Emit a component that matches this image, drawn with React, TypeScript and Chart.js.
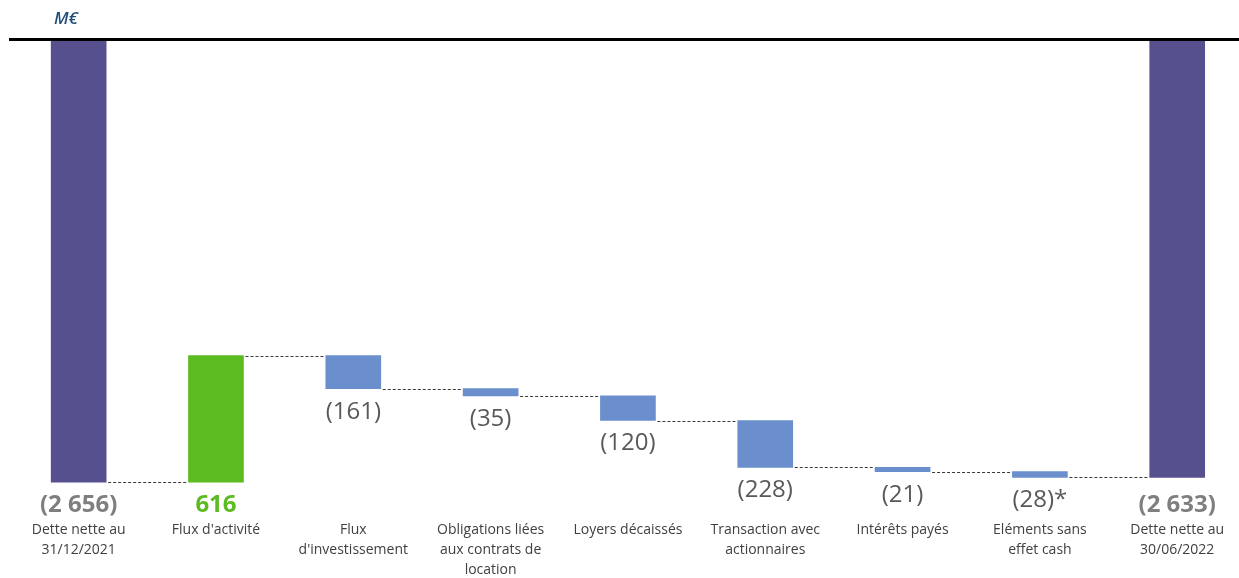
import React, { useEffect, useRef } from "react";
import { Chart, registerables } from "chart.js";

Chart.register(...registerables);

// ---- Data ----
const categories: string[][] = [
  ["Dette nette au", "31/12/2021"],
  ["Flux d'activité"],
  ["Flux", "d'investissement"],
  ["Obligations liées", "aux contrats de", "location"],
  ["Loyers décaissés"],
  ["Transaction avec", "actionnaires"],
  ["Intérêts payés"],
  ["Eléments sans", "effet cash"],
  ["Dette nette au", "30/06/2022"],
];
const startTotal = -2656;
const changes = [616, -161, -35, -120, -228, -21, -28];
const endTotal = -2633;
const valueLabels = ["(2 656)", "616", "(161)", "(35)", "(120)", "(228)", "(21)", "(28)*", "(2 633)"];
const unitLabel = "M€";

// ---- Styles ----
const COLOR_TOTAL = "#57508f";
const COLOR_UP = "#5cbb20";
const COLOR_DOWN = "#6a8fcc";
const FONT = "'Open Sans', 'DejaVu Sans', sans-serif";

// Build floating ranges (waterfall) from the values
type Kind = "total" | "up" | "down";
const ranges: [number, number][] = [];
const kinds: Kind[] = [];
const levelsAfter: number[] = [];
ranges.push([startTotal, 0]);
kinds.push("total");
levelsAfter.push(startTotal);
let running = startTotal;
for (const c of changes) {
  const next = running + c;
  ranges.push([Math.min(running, next), Math.max(running, next)]);
  kinds.push(c >= 0 ? "up" : "down");
  running = next;
  levelsAfter.push(running);
}
ranges.push([endTotal, 0]);
kinds.push("total");
levelsAfter.push(endTotal);

const BAR_W = 55;

const overlayPlugin = {
  id: "waterfallOverlay",
  afterDatasetsDraw(chart: any) {
    const { ctx, chartArea, scales } = chart;
    const xs = scales.x;
    const ys = scales.y;
    ctx.save();

    // connectors
    ctx.strokeStyle = "#3a3a3a";
    ctx.lineWidth = 1;
    ctx.setLineDash([3, 2]);
    for (let i = 0; i < ranges.length - 1; i++) {
      const y = Math.round(ys.getPixelForValue(levelsAfter[i])) + 0.5;
      const x1 = xs.getPixelForValue(i) + BAR_W / 2 + 2;
      const x2 = xs.getPixelForValue(i + 1) - BAR_W / 2 - 2;
      ctx.beginPath();
      ctx.moveTo(x1, y);
      ctx.lineTo(x2, y);
      ctx.stroke();
    }
    ctx.setLineDash([]);

    // top black line
    ctx.fillStyle = "#000000";
    ctx.fillRect(9, chartArea.top - 2, chart.width - 9, 3);

    // unit label
    ctx.fillStyle = "#1f4e79";
    ctx.font = `italic 600 17px ${FONT}`;
    ctx.textAlign = "left";
    ctx.textBaseline = "middle";
    ctx.fillText(unitLabel, 54, 19);

    // value labels
    ctx.textAlign = "center";
    ctx.textBaseline = "middle";
    for (let i = 0; i < ranges.length; i++) {
      const x = xs.getPixelForValue(i);
      const k = kinds[i];
      let y: number;
      if (k === "down") {
        y = ys.getPixelForValue(ranges[i][0]) + 23;
        ctx.font = `400 24px ${FONT}`;
        ctx.fillStyle = "#595959";
      } else {
        y = chartArea.bottom + 22;
        ctx.font = `700 24px ${FONT}`;
        ctx.fillStyle = k === "up" ? COLOR_UP : "#7f7f7f";
      }
      ctx.fillText(valueLabels[i], x, y);
    }

    // category labels
    ctx.font = `400 14px ${FONT}`;
    ctx.fillStyle = "#404040";
    for (let i = 0; i < categories.length; i++) {
      const x = xs.getPixelForValue(i);
      categories[i].forEach((line, j) => {
        ctx.fillText(line, x, 530 + j * 20);
      });
    }
    ctx.restore();
  },
};

export default function App() {
  const ref = useRef<HTMLCanvasElement | null>(null);
  useEffect(() => {
    if (!ref.current) return;
    const chart = new Chart(ref.current, {
      type: "bar",
      data: {
        datasets: [
          {
            data: ranges.map((r, i) => ({ x: i, y: r })) as any,
            backgroundColor: kinds.map((k) =>
              k === "total" ? COLOR_TOTAL : k === "up" ? COLOR_UP : COLOR_DOWN
            ),
            borderWidth: 0,
            barThickness: BAR_W,
            borderSkipped: false,
          },
        ],
      },
      options: {
        animation: false,
        responsive: true,
        maintainAspectRatio: false,
        layout: { padding: { top: 40, bottom: 95, left: 10, right: 0 } },
        plugins: { legend: { display: false }, tooltip: { enabled: false } },
        scales: {
          x: { type: "linear", offset: false, min: -0.5, max: 8.45, display: false },
          y: { type: "linear", min: -2660, max: -504, display: false },
        },
      },
      plugins: [overlayPlugin],
    });
    return () => chart.destroy();
  }, []);
  return (
    <div style={{ position: "absolute", left: 0, top: 0, width: 1239, height: 578, background: "#ffffff" }}>
      <canvas ref={ref} />
    </div>
  );
}
